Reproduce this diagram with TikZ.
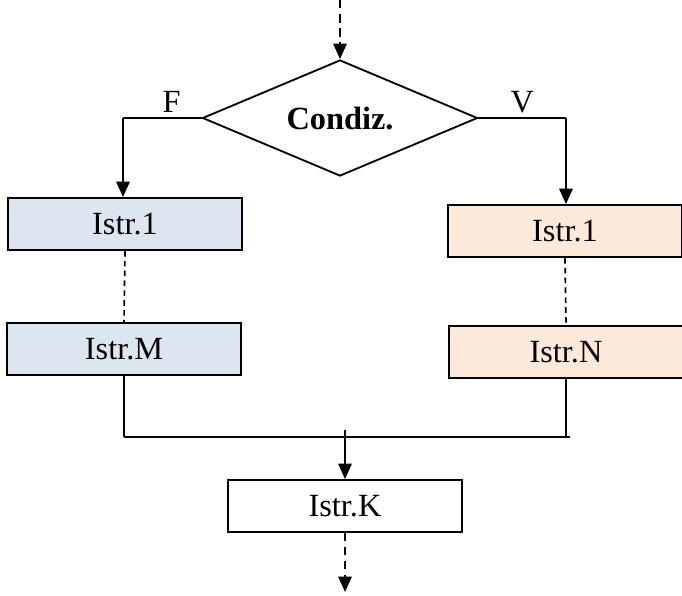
\documentclass[tikz,border=0pt]{standalone}
\usepackage{fontspec}
\setmainfont{Liberation Serif}
\usepackage{tikz}
\usetikzlibrary{arrows.meta}
\usetikzlibrary{shapes.geometric}
\usetikzlibrary{calc}

\definecolor{falseblue}{RGB}{220,230,241}
\definecolor{truepeach}{RGB}{253,233,217}

\begin{document}
\begin{tikzpicture}[x=0.025cm, y=-0.025cm, line width=1.4pt,
        font=\fontsize{23}{27}\selectfont,
        cond_style/.style={diamond,draw=black,line width=1.3pt,inner sep=0pt,shape aspect=2.35,minimum width=6.875cm,minimum height=2.9cm,font=\fontsize{23}{27}\selectfont\bfseries},
        box_style/.style={rectangle,draw=black,line width=1.3pt,minimum width=5.85cm,minimum height=1.3cm,inner sep=0pt},
        false_box_style/.style={box_style,fill=falseblue},
        true_box_style/.style={box_style,fill=truepeach},
        edge_style/.style={draw=black, line width=1.6pt,-{Triangle[length=11pt,width=9.5pt]}},
        dash_edge_style/.style={edge_style,dashed,dash pattern=on 6pt off 4pt},
        dash_style/.style={draw=black,line width=1.2pt,dash pattern=on 4pt off 3pt}]

        \useasboundingbox (0,0) rectangle (682,595);

        \node [cond_style](cond) at (340,118) {Condiz.};

        \node [false_box_style](f1) at (125,224) {Istr.1};

        \node [false_box_style](fm) at (124,349) {Istr.M};

        \node [true_box_style](v1) at (565,231) {Istr.1};

        \node [true_box_style](vn) at (566,352) {Istr.N};

        \node [box_style,fill=white](k) at (345,506) {Istr.K};

        \coordinate (top) at (340,0);
        \coordinate (fl) at (123,118);
        \coordinate (vr) at (566,118);
        \coordinate (jl) at (124,437);
        \coordinate (jr) at (570,437);
        \coordinate (jm) at (345,430);
        \coordinate (bottom) at (345,592);

        \draw [dash_edge_style] (top) -- (cond.north);

        \draw (cond.west) -- node[above,pos=0.38,inner sep=3pt]{F} (fl);

        \draw (cond.east) -- node[above,pos=0.5,inner sep=3pt]{V} (vr);

        \draw [edge_style] (fl) -- (fl |- f1.north);

        \draw [edge_style] (vr) -- (vr |- v1.north);

        \draw [dash_style] (f1.south) -- (fm.north);

        \draw [dash_style] (v1.south) -- (vn.north);

        \draw (fm.south) -- (jl);

        \draw (vn.south) -- (vn.south |- jr);

        \draw (jl) -- (jr);

        \draw [edge_style] (jm) -- (k.north);

        \draw [dash_edge_style] (k.south) -- (bottom);

        \end{tikzpicture}
\end{document}
